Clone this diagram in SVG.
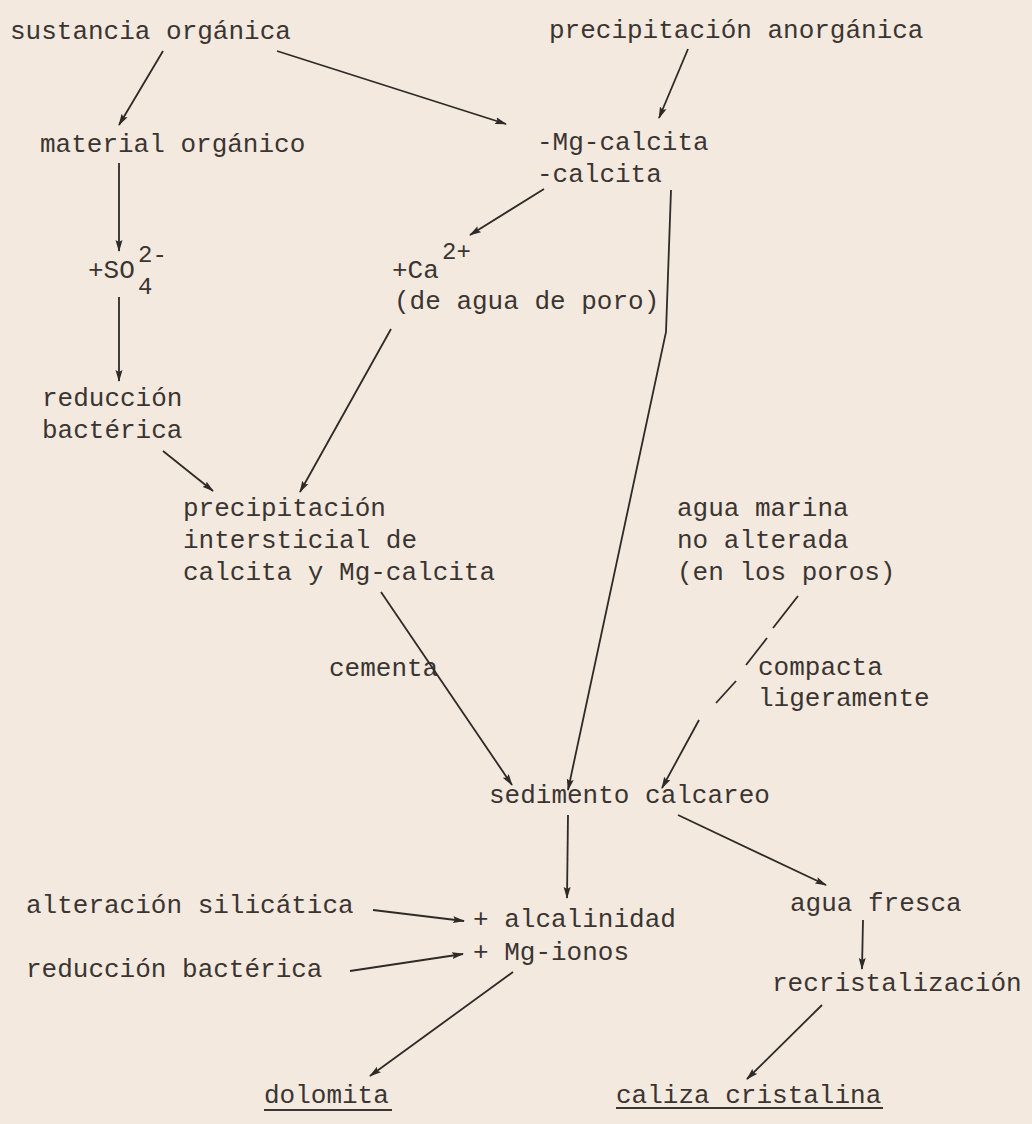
<svg xmlns="http://www.w3.org/2000/svg" width="1032" height="1124" viewBox="0 0 1032 1124">
<defs>
<style>
text{font-family:"Liberation Mono","DejaVu Sans Mono",monospace;font-size:26px;fill:#3a3532}
.sup{font-size:24px}
.c line,.c polyline{stroke:#2e2a28;stroke-width:1.8;fill:none}
.thin{stroke-width:1.2}
</style>
<marker id="a" viewBox="0 0 12 8" refX="11" refY="4" markerWidth="12" markerHeight="8" markerUnits="userSpaceOnUse" orient="auto">
<path d="M0,0.5 L12,4 L0,7.5 L2,4 Z" fill="#2e2a28"/>
</marker>
</defs>
<rect width="1032" height="1124" fill="#f4e9de"/>
<g id="n1"><text x="10" y="39">sustancia orgánica</text></g>
<g id="n2"><text x="549" y="38">precipitación anorgánica</text></g>
<g id="n3"><text x="40" y="152">material orgánico</text></g>
<g id="n4"><text x="537" y="150">-Mg-calcita</text><text x="537" y="182">-calcita</text></g>
<g id="n5"><text x="88" y="278">+SO</text><text class="sup" x="138" y="262">2-</text><text class="sup" x="138" y="294">4</text></g>
<g id="n6"><text x="392" y="278">+Ca</text><text class="sup" x="442" y="259">2+</text><text x="394" y="309">(de agua de poro)</text></g>
<g id="n7"><text x="42" y="406">reducción</text><text x="42" y="438">bactérica</text></g>
<g id="n8"><text x="183" y="516">precipitación</text><text x="183" y="548">intersticial de</text><text x="183" y="580">calcita y Mg-calcita</text></g>
<g id="n9"><text x="677" y="516">agua marina</text><text x="677" y="548">no alterada</text><text x="677" y="580">(en los poros)</text></g>
<g id="l1"><text x="329" y="676">cementa</text></g>
<g id="l2"><text x="758" y="675">compacta</text><text x="758" y="706">ligeramente</text></g>
<g id="n10"><text x="489" y="803">sedimento calcareo</text></g>
<g id="n11"><text x="26" y="913">alteración silicática</text></g>
<g id="n12"><text x="473" y="927">+ alcalinidad</text><text x="473" y="960">+ Mg-ionos</text></g>
<g id="n13"><text x="790" y="911">agua fresca</text></g>
<g id="n14"><text x="26" y="977">reducción bactérica</text></g>
<g id="n15"><text x="772" y="991">recristalización</text></g>
<g id="n16"><text x="264" y="1103">dolomita</text><line x1="264" y1="1110" x2="392" y2="1110" stroke="#3a3532" stroke-width="1.8"/></g>
<g id="n17"><text x="616" y="1103">caliza cristalina</text><line x1="616" y1="1108" x2="883" y2="1108" stroke="#3a3532" stroke-width="2"/></g>
<g class="c" id="connectors">
<line x1="163" y1="51" x2="119" y2="125" marker-end="url(#a)"/>
<line class="thin" x1="277" y1="51" x2="506" y2="124" marker-end="url(#a)"/>
<line x1="688" y1="49" x2="659" y2="118" marker-end="url(#a)"/>
<line x1="119" y1="163" x2="119" y2="251" marker-end="url(#a)"/>
<line x1="544" y1="189" x2="470" y2="235" marker-end="url(#a)"/>
<polyline points="671,190 666,332 568,790" marker-end="url(#a)"/>
<line x1="119" y1="297" x2="119" y2="381" marker-end="url(#a)"/>
<line x1="391" y1="329" x2="300" y2="492" marker-end="url(#a)"/>
<line x1="163" y1="451" x2="213" y2="491" marker-end="url(#a)"/>
<line x1="381" y1="592" x2="512" y2="785" marker-end="url(#a)"/>
<g id="dashed">
<line x1="798" y1="596" x2="773" y2="628"/>
<line x1="767" y1="638" x2="746" y2="665"/>
<line x1="736" y1="681" x2="716" y2="703"/>
<line x1="699" y1="720" x2="662" y2="788" marker-end="url(#a)"/>
</g>
<line x1="568" y1="815" x2="567" y2="898" marker-end="url(#a)"/>
<line x1="678" y1="815" x2="826" y2="885" marker-end="url(#a)"/>
<line x1="373" y1="910" x2="464" y2="921" marker-end="url(#a)"/>
<line x1="350" y1="971" x2="463" y2="954" marker-end="url(#a)"/>
<line x1="863" y1="920" x2="862" y2="969" marker-end="url(#a)"/>
<line x1="513" y1="972" x2="370" y2="1076" marker-end="url(#a)"/>
<line x1="822" y1="1005" x2="747" y2="1079" marker-end="url(#a)"/>
</g>
</svg>
